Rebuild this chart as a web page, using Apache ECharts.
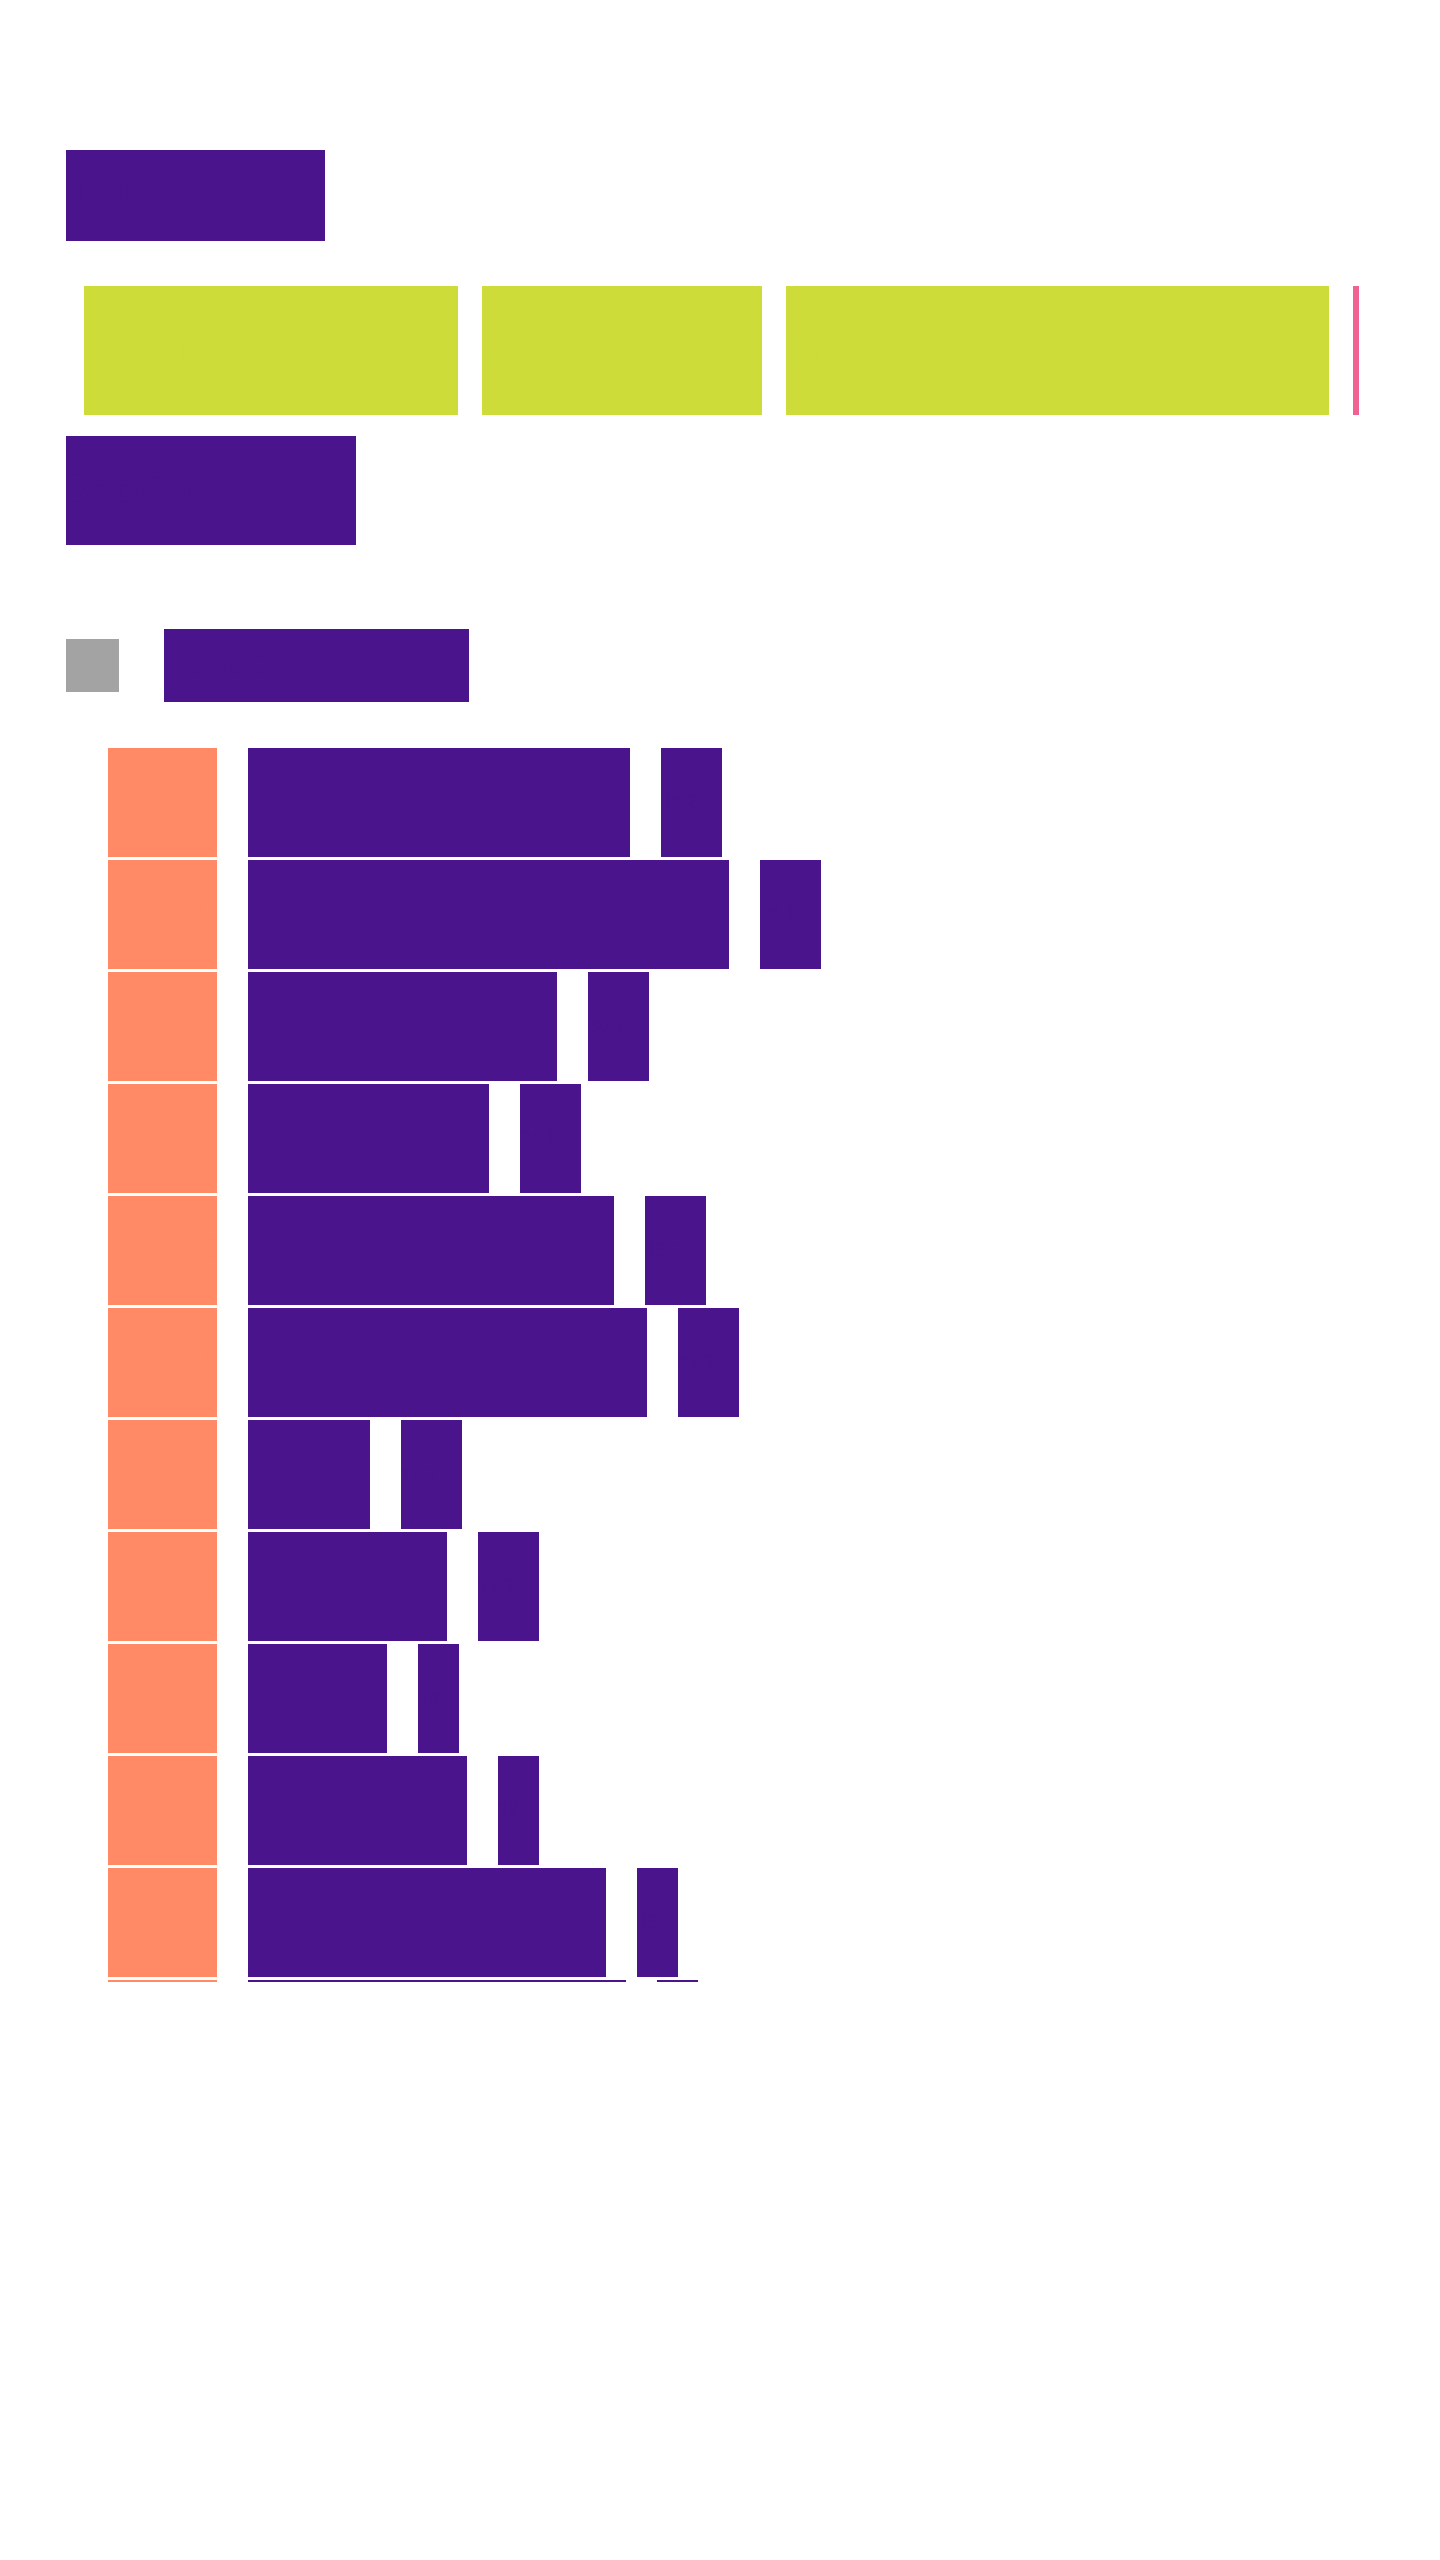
<!DOCTYPE html>
<html>
<head>
<meta charset="utf-8">
<script src="https://cdn.jsdelivr.net/npm/echarts@6.0.0/dist/echarts.min.js"></script>
<style>
  html, body { margin: 0; padding: 0; background: #ffffff; }
  #chart { width: 1440px; height: 1982px; }
</style>
</head>
<body>
<div id="chart"></div>
<script>
// ---- data ----
const categories = ['A', 'B', 'C', 'D', 'E', 'F', 'G', 'H', 'I', 'J', 'K', 'L'];
const values = [38.2, 48.1, 30.9, 24.1, 36.6, 39.9, 12.2, 19.9, 13.9, 21.9, 35.8, 37.8];
const valueLabels = ['38.2', '48.1', '30.9', '24.1', '36.6', '39.9', '12.2', '19.9', '14', '22', '36', '38'];
const seriesName = 'Series';
const titleText = 'Title';
const subtitleParts = ['Subtitle', 'text', 'more text'];
const sectionText = 'Section';

// ---- styling ----
const PURPLE = '#4a148c';
const ORANGE = '#ff8a65';
const LIME = '#cddc39';
const PINK = '#f06292';
const GREY = '#a3a3a3';
const FONT = 'Noto Sans';

function block(w, h, c, fs) {
  return { width: w, height: h, backgroundColor: c, color: c, fontSize: fs, fontFamily: FONT, lineHeight: h, padding: 0 };
}

const chart = echarts.init(document.getElementById('chart'), null, { renderer: 'canvas' });

const option = {
  animation: false,
  backgroundColor: '#ffffff',
  title: [
    {
      left: 66, top: 150, padding: 0,
      text: '{b|' + titleText + '}',
      textStyle: { rich: { b: block(259, 91, PURPLE, 40) } }
    },
    {
      left: 84, top: 286, padding: 0,
      text: '{a|' + subtitleParts[0] + '}{g| }{b|' + subtitleParts[1] + '}{g| }{c|' + subtitleParts[2] + '}{g| }{p| }',
      textStyle: {
        rich: {
          a: block(374, 129, LIME, 40),
          b: block(280, 129, LIME, 40),
          c: block(543, 129, LIME, 40),
          g: { width: 24, height: 129, color: 'rgba(0,0,0,0)', fontSize: 10 },
          p: block(6, 129, PINK, 4)
        }
      }
    },
    {
      left: 66, top: 436, padding: 0,
      text: '{b|' + sectionText + '}',
      textStyle: { rich: { b: block(290, 109, PURPLE, 40) } }
    }
  ],
  legend: {
    left: 66, top: 629, padding: 0,
    icon: 'rect',
    itemWidth: 53, itemHeight: 53,
    data: [{ name: seriesName, itemStyle: { color: GREY } }],
    formatter: function (name) { return '{s| }{t|' + name + '}'; },
    textStyle: {
      rich: {
        s: { width: 40, color: 'rgba(0,0,0,0)', fontSize: 10 },
        t: block(305, 73, PURPLE, 36)
      }
    },
    selectedMode: false
  },
  grid: {
    left: 248, top: 746.5, width: 1000, height: 112 * categories.length,
    containLabel: false,
    outerBoundsMode: 'none'
  },
  xAxis: {
    type: 'value', min: 0, max: 100, show: false
  },
  yAxis: {
    type: 'category',
    inverse: true,
    data: categories,
    axisLine: { show: false },
    axisTick: { show: false },
    splitLine: { show: false },
    axisLabel: {
      interval: 0,
      margin: 31,
      formatter: function (v) { return '{o|' + v + '}'; },
      rich: { o: block(109, 109, ORANGE, 30) }
    }
  },
  series: [
    {
      name: seriesName,
      type: 'bar',
      data: values,
      barWidth: 109,
      itemStyle: { color: PURPLE },
      emphasis: { disabled: true },
      label: {
        show: true,
        position: 'right',
        distance: 31,
        textBorderWidth: 0,
        formatter: function (p) {
          const t = valueLabels[p.dataIndex];
          return (t.length > 2 ? '{w|' : '{n|') + t + '}';
        },
        rich: {
          w: block(61, 109, PURPLE, 18),
          n: block(41, 109, PURPLE, 18)
        }
      }
    }
  ]
};

chart.setOption(option);
</script>
</body>
</html>
